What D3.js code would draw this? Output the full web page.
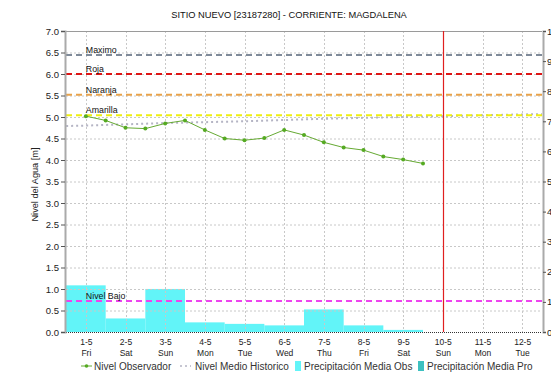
<!DOCTYPE html>
<html><head><meta charset="utf-8">
<script src="https://cdn.jsdelivr.net/npm/d3@7"></script>
<style>
body{margin:0;background:#fff;}
svg{display:block;font-family:"Liberation Sans",Arial,sans-serif;}
</style></head>
<body><svg id="c" width="551" height="381"></svg>
<script>
// ---- data ----
const title = "SITIO NUEVO [23187280] - CORRIENTE: MAGDALENA";
const yTitle = "Nivel del Agua [m]";
const dayLabels = ["1-5","2-5","3-5","4-5","5-5","6-5","7-5","8-5","9-5","10-5","11-5","12-5"];
const weekdayLabels = ["Fri","Sat","Sun","Mon","Tue","Wed","Thu","Fri","Sat","Sun","Mon","Tue"];
const leftTicks = [0,0.5,1,1.5,2,2.5,3,3.5,4,4.5,5,5.5,6,6.5,7];
const rightTicks = [0,1,2,3,4,5,6,7,8,9,10];
// observed level every 12h starting 1-5 00:00
const obsLevel = [5.02,4.92,4.75,4.73,4.85,4.92,4.70,4.50,4.46,4.51,4.70,4.58,4.41,4.29,4.23,4.08,4.01,3.92];
// historic mean level, daily from 30-4 to 13-5
const histLevel = [4.78,4.80,4.83,4.86,4.88,4.90,4.93,4.96,4.98,5.00,5.02,5.04,5.06,5.07];
// observed precipitation (right axis), daily from 1-5
const precipObs = [1.55,0.45,1.43,0.32,0.27,0.22,0.75,0.22,0.07];
const levelNames = ["Maximo","Roja","Naranja","Amarilla","Nivel Bajo"];
const levelValues = [6.44,6.0,5.52,5.04,0.72];
const levelColors = ["#7f8a99","#dd1515","#e8a24a","#eeee10","#ee44ee"];
const currentDayIndex = 9; // 10-5
const legendNames = ["Nivel Observador","Nivel Medio Historico","Precipitación Media Obs","Precipitación Media Pro"];

// ---- layout ----
const L=66, R=542, T=31, B=332;
const svg = d3.select("#c");
const DAY = 864e5;
const d0 = Date.UTC(2015,4,1);
const dayDate = i => new Date(d0 + i*DAY);
const x = d3.scaleUtc().domain([new Date(d0-DAY/2), new Date(d0+11*DAY+DAY/2)]).range([L,R]);
const y = d3.scaleLinear().domain([0,7]).range([B,T]);
const y2 = d3.scaleLinear().domain([0,10]).range([B,T]);

// title
svg.append("text").attr("x",289).attr("y",18).attr("text-anchor","middle")
  .attr("font-size",9.3).attr("fill","#111").text(title);

// bars
svg.append("g").selectAll("rect").data(precipObs).join("rect")
  .attr("x",(d,i)=>x(new Date(d0+i*DAY-DAY/2)))
  .attr("width",(d,i)=>x(new Date(d0+i*DAY+DAY/2))-x(new Date(d0+i*DAY-DAY/2)))
  .attr("y",d=>y2(d)).attr("height",d=>B-y2(d)).attr("fill","#62f4f8");

// gridlines
const grid = svg.append("g").attr("stroke","#c8c8c8").attr("stroke-dasharray","2,2").attr("stroke-width",1);
grid.selectAll("line.h").data(leftTicks.filter(v=>v>0&&v<7)).join("line")
  .attr("x1",L).attr("x2",R).attr("y1",d=>y(d)+0.5).attr("y2",d=>y(d)+0.5);
grid.selectAll("line.v").data(dayLabels).join("line")
  .attr("x1",(d,i)=>Math.round(x(dayDate(i)))+0.5).attr("x2",(d,i)=>Math.round(x(dayDate(i)))+0.5)
  .attr("y1",T).attr("y2",B);

// frame
svg.append("line").attr("x1",L).attr("x2",R).attr("y1",T+0.5).attr("y2",T+0.5).attr("stroke","#9a9a9a");
svg.append("line").attr("x1",L).attr("x2",R).attr("y1",B+0.5).attr("y2",B+0.5).attr("stroke","#333").attr("stroke-dasharray","1,1");

// historic mean
const line = d3.line().x(d=>x(d[0])).y(d=>y(d[1]));
svg.append("defs").append("clipPath").attr("id","clip").append("rect").attr("x",L).attr("y",T).attr("width",R-L).attr("height",B-T);
svg.append("path").attr("clip-path","url(#clip)")
  .datum(histLevel.map((v,i)=>[dayDate(i-1),v]))
  .attr("d",line).attr("fill","none").attr("stroke","#b4b4c4").attr("stroke-width",2).attr("stroke-dasharray","2,3");

// level lines
const lv = svg.append("g");
levelValues.forEach((v,i)=>{
  lv.append("line").attr("x1",L).attr("x2",R).attr("y1",y(v)).attr("y2",y(v))
    .attr("stroke",levelColors[i]).attr("stroke-width",2).attr("stroke-dasharray","6,4");
  lv.append("text").attr("x",x(dayDate(0))).attr("y",y(v)-2).attr("font-size",8.8).attr("fill","#111").text(levelNames[i]);
});

// current day line
const cx = Math.round(x(dayDate(currentDayIndex)))+0.5;
svg.append("line").attr("x1",cx).attr("x2",cx)
  .attr("y1",T).attr("y2",B).attr("stroke","#e02020").attr("stroke-width",1.2);

// observed
const obs = obsLevel.map((v,i)=>[new Date(d0+i*DAY/2),v]);
svg.append("path").datum(obs).attr("d",line).attr("fill","none").attr("stroke","#66aa33").attr("stroke-width",1);
svg.append("g").selectAll("circle").data(obs).join("circle")
  .attr("cx",d=>x(d[0])).attr("cy",d=>y(d[1])).attr("r",2).attr("fill","#55aa22");

// axes
const ax = d3.axisLeft(y).tickValues(leftTicks).tickFormat(d3.format(".1f")).tickSize(4).tickPadding(2);
const gl = svg.append("g").attr("transform",`translate(${L-1},0)`).call(ax);
gl.select(".domain").attr("stroke","#aaa").attr("stroke-width",2);
gl.selectAll(".tick line").attr("stroke","#555");
gl.selectAll("text").attr("font-size",9.5).attr("fill","#222").attr("font-family","Liberation Sans, Arial, sans-serif");

const ar = d3.axisRight(y2).tickValues(rightTicks).tickFormat(d3.format("d")).tickSize(3).tickPadding(1);
const gr = svg.append("g").attr("transform",`translate(${R+1},0)`).call(ar);
gr.select(".domain").attr("stroke","#aaa").attr("stroke-width",2);
gr.selectAll(".tick line").attr("stroke","#555");
gr.selectAll("text").attr("font-size",9.5).attr("fill","#222").attr("font-family","Liberation Sans, Arial, sans-serif");

const xb = d3.axisBottom(x).tickValues(dayLabels.map((d,i)=>dayDate(i))).tickFormat("").tickSize(0);
const gb = svg.append("g").attr("transform",`translate(0,${B})`).call(xb);
gb.select(".domain").remove();
gb.selectAll(".tick").each(function(d,i){
  const g=d3.select(this);
  g.append("text").attr("y",13).attr("text-anchor","middle").attr("font-size",8.5).attr("fill","#222").text(dayLabels[i]);
  g.append("text").attr("y",24).attr("text-anchor","middle").attr("font-size",8.5).attr("fill","#222").text(weekdayLabels[i]);
});

// y title
svg.append("text").attr("transform",`translate(38,${(T+B)/2+3}) rotate(-90)`).attr("text-anchor","middle")
  .attr("font-size",9.2).attr("fill","#222").text(yTitle);

// legend
const lg = svg.append("g").attr("font-size",10).attr("fill","#333");
const ly = 366;
lg.append("line").attr("x1",81).attr("x2",92).attr("y1",ly).attr("y2",ly).attr("stroke","#66aa33");
lg.append("circle").attr("cx",86.5).attr("cy",ly).attr("r",1.8).attr("fill","#55aa22");
lg.append("text").attr("x",94).attr("y",ly+3.5).text(legendNames[0]);
lg.append("line").attr("x1",180).attr("x2",191).attr("y1",ly).attr("y2",ly).attr("stroke","#b4b4c4").attr("stroke-width",1.5).attr("stroke-dasharray","2,3");
lg.append("text").attr("x",195).attr("y",ly+3.5).text(legendNames[1]);
lg.append("rect").attr("x",295).attr("y",ly-5).attr("width",6).attr("height",10).attr("fill","#62f4f8");
lg.append("text").attr("x",304).attr("y",ly+3.5).text(legendNames[2]);
lg.append("rect").attr("x",418).attr("y",ly-5).attr("width",6).attr("height",10).attr("fill","#3cc0c0");
lg.append("text").attr("x",427).attr("y",ly+3.5).text(legendNames[3]);
</script></body></html>
